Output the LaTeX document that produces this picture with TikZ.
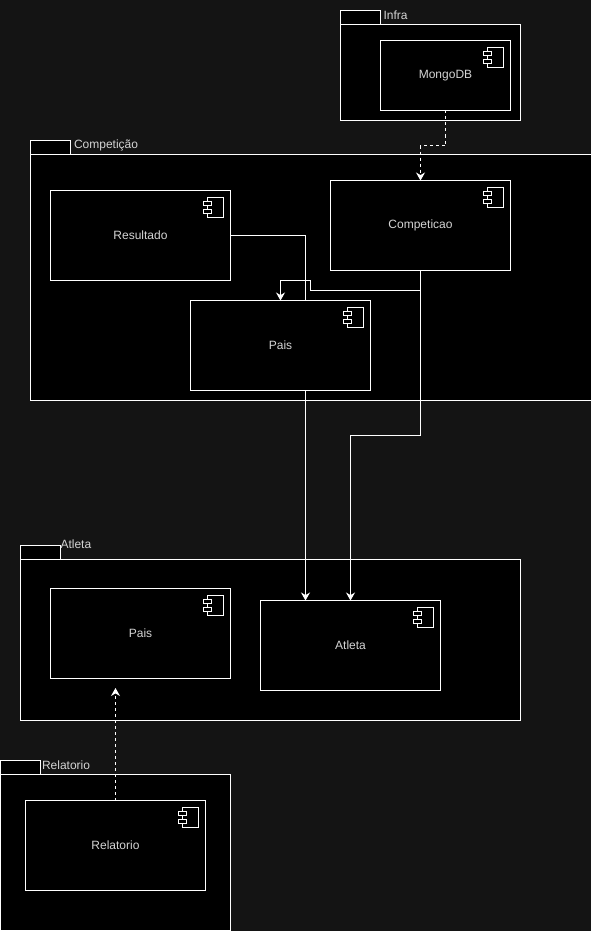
\documentclass[tikz,border=0pt]{standalone}
\usepackage{xcolor}
\usepackage{fontspec}
\setmainfont{Liberation Sans}
\usepackage{tikz}
\usetikzlibrary{arrows.meta,calc}
\definecolor{pagebg}{HTML}{141414}
\definecolor{labelgray}{HTML}{D4D4D4}
\newcommand{\compicon}[1]{%
  \draw[icon,shift={(#1.north east)}] (-23,7) rectangle (-7,27);
  \draw[icon,shift={(#1.north east)}] (-27,11) rectangle (-19,15);
  \draw[icon,shift={(#1.north east)}] (-27,19) rectangle (-19,23);
}

\begin{document}
\begin{tikzpicture}[
  x=1pt,y=-1pt,line width=1pt,
  pkg/.style={draw=white,fill=black,inner sep=0pt,outer sep=0pt},
  tab/.style={pkg,minimum width=40pt,minimum height=14pt},
  comp/.style={pkg,minimum width=180pt,minimum height=90pt,text=labelgray,font=\fontsize{12}{14}\selectfont},
  pkglabel/.style={anchor=west,inner sep=0pt,text=labelgray,font=\fontsize{12}{14}\selectfont},
  icon/.style={draw=white,fill=black},
  flow/.style={draw=white,-{Stealth[length=8pt,width=9pt]}},
  dep/.style={flow,dash pattern=on 3pt off 3pt}
]
  \fill[pagebg] (0,0) rectangle (591,931);
  \clip (0,0) rectangle (591,931);
  % packages
  \node[tab] (infratab) at (360.5,17.5) {};
  \node[pkg,minimum width=180pt,minimum height=96pt] (infra) at (430.5,72.5) {};
  \node[pkglabel] (infralbl) at (383,15) {Infra};
  \node[tab] (comptab) at (50.5,147.5) {};
  \node[pkg,minimum width=562pt,minimum height=246pt] (compet) at (311.5,277.5) {};
  \node[pkglabel] (complbl) at (73.5,145.5) {Competição};
  \node[tab] (atltab) at (40.5,552.5) {};
  \node[pkg,minimum width=500pt,minimum height=161pt] (atlpkg) at (270.5,639.5) {};
  \node[pkglabel] (atllbl) at (60,544) {Atleta};
  \node[tab] (reltab) at (20.5,767.5) {};
  \node[pkg,minimum width=230pt,minimum height=156pt] (relpkg) at (115.5,852.5) {};
  \node[pkglabel] (rellbl) at (41.5,765) {Relatorio};
  % components
  \node[comp,minimum width=130pt,minimum height=70pt] (mongo) at (445.5,75.5) {MongoDB};
  \node[comp] (cpt) at (420.5,225.5) {Competicao};
  \node[comp] (res) at (140.5,235.5) {Resultado};
  \node[comp] (atl) at (350.5,645.5) {Atleta};
  \node[comp] (paisatl) at (140.5,633) {Pais};
  \node[comp] (rel) at (115.5,845.5) {Relatorio};
  \coordinate (reltip) at (115.5,688);
  % connectors, Pais goes on top of the first one
  \draw[dep] (mongo.south) -- ++(0,35) -| (cpt.north);
  \draw[flow] (res.east) -| ($(atl.north)+(-45,0)$);
  \draw[flow] (cpt.south) -- ++(0,165) -| (atl.north);
  \node[comp] (pais) at (280.5,345.5) {Pais};
  \draw[flow] (cpt.south) -- ++(0,20) -- ++(-110,0) -- ++(0,-10) -| (pais.north);
  \draw[dep] (rel.north) -- (reltip);
  \compicon{mongo}
  \compicon{cpt}
  \compicon{res}
  \compicon{atl}
  \compicon{paisatl}
  \compicon{rel}
  \compicon{pais}
\end{tikzpicture}
\end{document}
